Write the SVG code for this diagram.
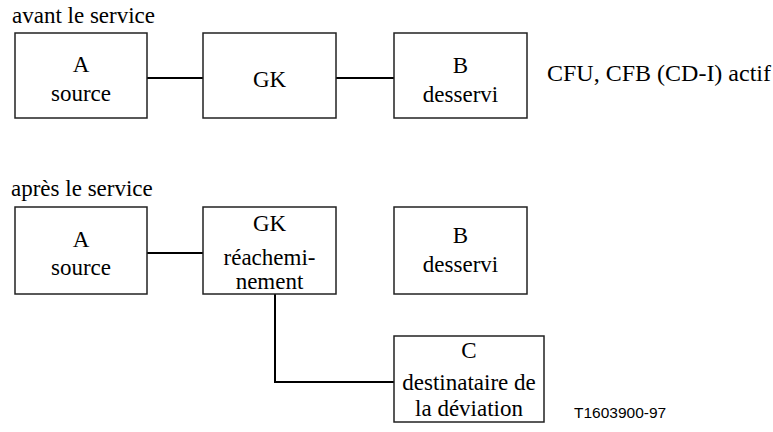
<svg xmlns="http://www.w3.org/2000/svg" width="773" height="432" viewBox="0 0 773 432">
<style>
.box{fill:#fff;stroke:#222;stroke-width:1.5}
.t{font-family:"Liberation Serif","Times New Roman",serif;font-size:23px;fill:#000}
.c{text-anchor:middle}
.ln{fill:none;stroke:#000;stroke-width:2}
.ref{font-family:"Liberation Sans",Arial,sans-serif;font-size:15.5px;fill:#000}
</style>
<rect width="773" height="432" fill="#fff"/>
<text class="t" x="12" y="23">avant le service</text>
<text class="t" x="547" y="81" style="font-size:24px">CFU, CFB (CD-I) actif</text>
<text class="t" x="11" y="196">après le service</text>
<text class="ref" x="574" y="418">T1603900-97</text>
<g id="connectors">
<line class="ln" x1="147" y1="78" x2="203" y2="78"/>
<line class="ln" x1="336" y1="78" x2="394" y2="78"/>
<line class="ln" x1="147" y1="253" x2="203" y2="253"/>
<polyline class="ln" points="275,294 275,382 394,382"/>
</g>
<g id="a1">
<rect class="box" x="15" y="33" width="132" height="85"/>
<text class="t c" x="81" y="72">A</text>
<text class="t c" x="81" y="101">source</text>
</g>
<g id="gk1">
<rect class="box" x="203" y="33" width="133" height="85"/>
<text class="t c" x="269.5" y="87">GK</text>
</g>
<g id="b1">
<rect class="box" x="394" y="33" width="133" height="85"/>
<text class="t c" x="460.5" y="73">B</text>
<text class="t c" x="460.5" y="101.5">desservi</text>
</g>
<g id="a2">
<rect class="box" x="15" y="207" width="132" height="87"/>
<text class="t c" x="81" y="247">A</text>
<text class="t c" x="81" y="275">source</text>
</g>
<g id="gk2">
<rect class="box" x="203" y="207" width="133" height="87"/>
<text class="t c" x="269.5" y="231">GK</text>
<text class="t c" x="269.5" y="265">réachemi-</text>
<text class="t c" x="269.5" y="289">nement</text>
</g>
<g id="b2">
<rect class="box" x="394" y="207" width="133" height="87"/>
<text class="t c" x="460.5" y="243">B</text>
<text class="t c" x="460.5" y="272">desservi</text>
</g>
<g id="c2">
<rect class="box" x="394" y="336" width="150" height="86"/>
<text class="t c" x="469" y="358">C</text>
<text class="t c" x="469" y="390">destinataire de</text>
<text class="t c" x="469" y="416">la déviation</text>
</g>
</svg>
